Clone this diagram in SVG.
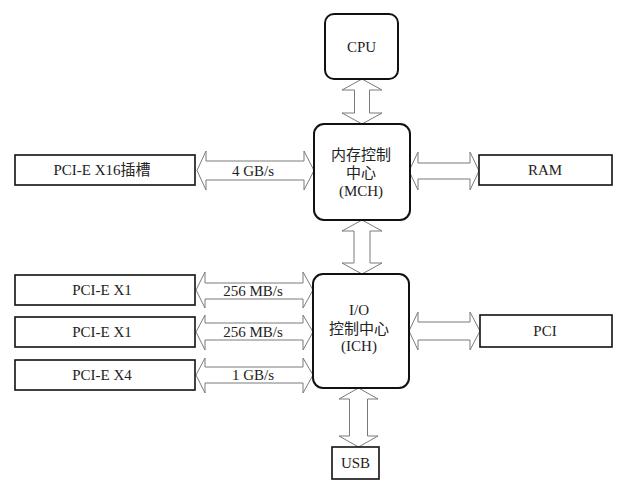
<svg xmlns="http://www.w3.org/2000/svg" width="626" height="487" viewBox="0 0 626 487">
<style>
.box{fill:#fff;stroke:#111;stroke-width:1.6}
.rbox{fill:#fff;stroke:#111;stroke-width:2}
.arr{fill:#fff;stroke:#7a7a7a;stroke-width:1}
text{font-family:"Liberation Serif","Noto Sans CJK SC",serif;font-size:15px;fill:#222;text-anchor:middle}
</style>
<rect width="626" height="487" fill="#fff"/>
<g id="connectors">
<polygon class="arr" points="362,79 382,90 369.5,90 369.5,113 382,113 362,124 342,113 354.5,113 354.5,90 342,90"/>
<polygon class="arr" points="362,220 382,231 370,231 370,263 382,263 362,274 342,263 354,263 354,231 342,231"/>
<polygon class="arr" points="358.5,388 378,399 367.5,399 367.5,436 378,436 358.5,447 339,436 349.5,436 349.5,399 339,399"/>
<polygon class="arr" points="197,170.5 206,151 206,161 304,161 304,151 314,170.5 304,190 304,180 206,180 206,190"/>
<polygon class="arr" points="409,171 418,152 418,163 470,163 470,152 479,171 470,190 470,179 418,179 418,190"/>
<polygon class="arr" points="409,331 418,312 418,322 470,322 470,312 480,331 470,350 470,340 418,340 418,350"/>
<polygon class="arr" points="196,290 205,272 205,283 303,283 303,272 313,290 303,308 303,299 205,299 205,308"/>
<polygon class="arr" points="196,332 205,315 205,323 303,323 303,315 313,332 303,350 303,340 205,340 205,350"/>
<polygon class="arr" points="196,375 205,358 205,367 303,367 303,358 313,375 303,393 303,383 205,383 205,393"/>
<text x="253" y="176">4 GB/s</text>
<text x="253" y="296">256 MB/s</text>
<text x="253" y="337">256 MB/s</text>
<text x="253" y="380">1 GB/s</text>
</g>
<g id="cpu"><rect class="rbox" x="325" y="14" width="73" height="65" rx="9"/><text x="361.5" y="52">CPU</text></g>
<g id="mch"><rect class="rbox" x="314" y="124" width="96" height="96" rx="10"/><text x="361" y="160">内存控制</text><text x="361" y="178">中心</text><text x="361" y="196">(MCH)</text></g>
<g id="ich"><rect class="rbox" x="313" y="274" width="96" height="114" rx="10"/><text x="359" y="315">I/O</text><text x="359" y="334">控制中心</text><text x="359" y="351">(ICH)</text></g>
<g id="pcie16"><rect class="box" x="15" y="155" width="180" height="30"/><text x="102" y="175">PCI-E X16插槽</text></g>
<g id="ram"><rect class="box" x="479" y="155" width="133" height="30"/><text x="545" y="175">RAM</text></g>
<g id="pci"><rect class="box" x="480" y="315" width="132" height="32"/><text x="545" y="336">PCI</text></g>
<g id="pcie1a"><rect class="box" x="15" y="275" width="180" height="30"/><text x="102" y="295">PCI-E X1</text></g>
<g id="pcie1b"><rect class="box" x="15" y="317" width="180" height="30"/><text x="102" y="337">PCI-E X1</text></g>
<g id="pcie4"><rect class="box" x="15" y="360" width="180" height="30"/><text x="102" y="380">PCI-E X4</text></g>
<g id="usb"><rect class="box" x="332" y="447" width="47" height="32"/><text x="355.5" y="468">USB</text></g>
</svg>
